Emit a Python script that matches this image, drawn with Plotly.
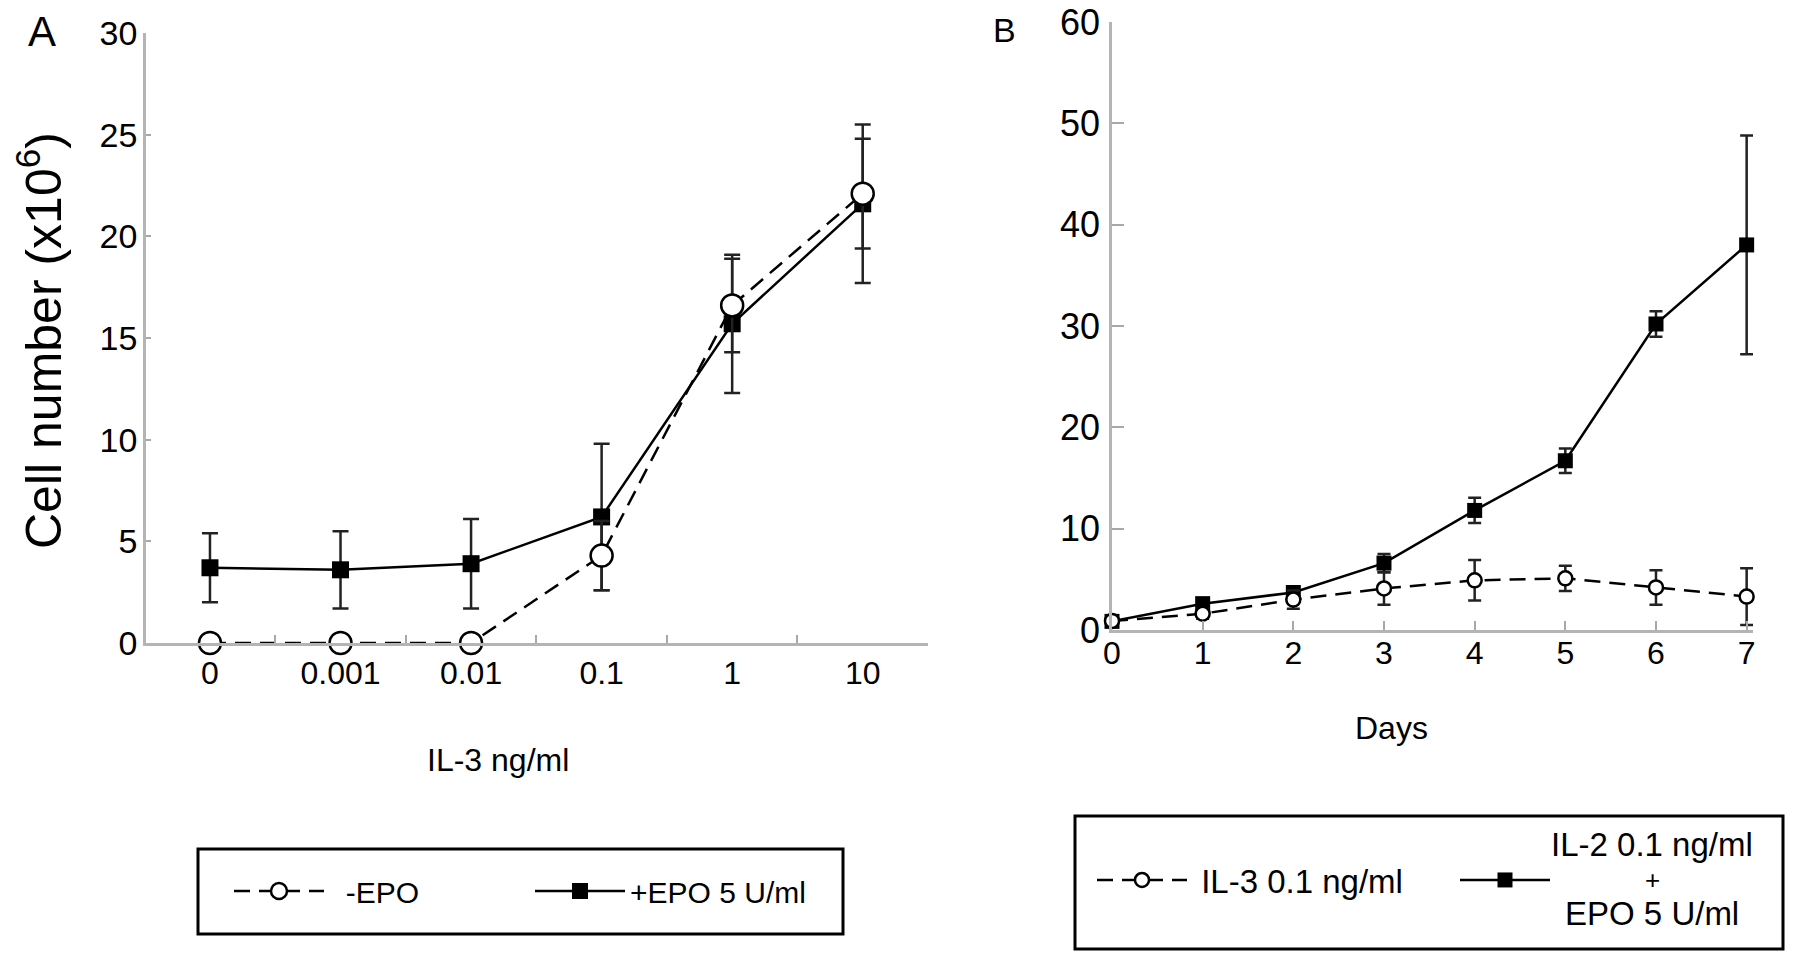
import plotly.graph_objects as go

W, H = 1795, 958

# ---- panel A: cell number vs IL-3 dose
il3_doses = ["0", "0.001", "0.01", "0.1", "1", "10"]
no_epo = [0.0, 0.0, 0.0, 4.3, 16.6, 22.1]
no_epo_err = [0.0, 0.0, 0.0, 1.7, 2.3, 2.7]
epo5 = [3.7, 3.6, 3.9, 6.2, 15.7, 21.6]
epo5_err = [1.7, 1.9, 2.2, 3.6, 3.4, 3.9]

# ---- panel B: time course
days = [0, 1, 2, 3, 4, 5, 6, 7]
il3_01 = [0.9, 1.6, 3.0, 4.1, 4.9, 5.1, 4.2, 3.3]
il3_01_err = [0.3, 0.5, 0.9, 1.6, 2.0, 1.25, 1.7, 2.8]
il2_epo = [0.85, 2.6, 3.7, 6.6, 11.8, 16.7, 30.2, 38.0]
il2_epo_err = [0.3, 0.5, 0.5, 0.9, 1.25, 1.2, 1.25, 10.8]

FONT = "Arial, Liberation Sans, sans-serif"
AXIS_GREY = "#b4b4b4"
NB = "\u00a0"
OFF = 8  # page body margin


def px(x):
    return (x - OFF) / W


def py(y):
    return 1 - (y - OFF) / H


fig = go.Figure()

# panel A traces (squares first so circles sit on top)
fig.add_trace(go.Scatter(
    x=il3_doses, y=epo5, name="+EPO 5 U/ml", legend="legend", legendrank=2,
    mode="lines+markers", cliponaxis=False,
    line=dict(color="black", width=2.5),
    marker=dict(symbol="square", size=17, color="black"),
    error_y=dict(type="data", array=epo5_err, color="#222", thickness=2.5, width=8),
    xaxis="x", yaxis="y"))
fig.add_trace(go.Scatter(
    x=il3_doses, y=no_epo, name=NB * 2 + "-EPO", legend="legend", legendrank=1,
    mode="lines+markers", cliponaxis=False,
    line=dict(color="black", width=2.5, dash="16px,9px"),
    marker=dict(symbol="circle", size=22, color="white",
                line=dict(color="black", width=2.5)),
    error_y=dict(type="data", array=no_epo_err, color="#222", thickness=2.5, width=8),
    xaxis="x", yaxis="y"))

# panel B traces (second legend label is written as three centred lines below)
fig.add_trace(go.Scatter(
    x=days, y=il2_epo, name=NB, legend="legend2", legendrank=2,
    hovertemplate="IL-2 0.1 ng/ml + EPO 5 U/ml<br>day %{x}: %{y}<extra></extra>",
    mode="lines+markers", cliponaxis=False,
    line=dict(color="black", width=2.5),
    marker=dict(symbol="square", size=15, color="black"),
    error_y=dict(type="data", array=il2_epo_err, color="#222", thickness=2.5, width=6.5),
    xaxis="x2", yaxis="y2"))
fig.add_trace(go.Scatter(
    x=days, y=il3_01, name=NB + "IL-3 0.1 ng/ml", legend="legend2", legendrank=1,
    mode="lines+markers", cliponaxis=False,
    line=dict(color="black", width=2.5, dash="16px,9px"),
    marker=dict(symbol="circle", size=14, color="white",
                line=dict(color="black", width=2.5)),
    error_y=dict(type="data", array=il3_01_err, color="#222", thickness=2.5, width=6.5),
    xaxis="x2", yaxis="y2"))

axis_common = dict(showline=True, linecolor=AXIS_GREY, linewidth=2.5,
                   showgrid=False, zeroline=False, ticks="inside",
                   tickcolor="#a8a8a8", tickwidth=2, ticklabeloverflow="allow")

fig.update_layout(
    width=W, height=H,
    margin=dict(l=0, r=0, t=0, b=0, autoexpand=False),
    paper_bgcolor="white", plot_bgcolor="white",
    font=dict(family=FONT, color="black"),
    xaxis=dict(axis_common, domain=[px(146), px(928)], anchor="y",
               type="category", categoryorder="array", categoryarray=il3_doses,
               range=[-0.49, 5.5], tickson="boundaries", ticklen=8,
               tickfont=dict(size=32), ticklabelstandoff=0),
    yaxis=dict(axis_common, domain=[py(643), py(33)], anchor="x",
               range=[0, 30], tickvals=[0, 5, 10, 15, 20, 25, 30], ticklen=5,
               tickfont=dict(size=34), ticklabelstandoff=-1),
    xaxis2=dict(axis_common, domain=[px(1112), px(1753)], anchor="y2",
                range=[0, 7.07], tickvals=days, ticklen=9,
                tickfont=dict(size=32), ticklabelstandoff=-7),
    yaxis2=dict(axis_common, domain=[py(630), py(22)], anchor="x2",
                range=[0, 60], tickvals=[0, 10, 20, 30, 40, 50, 60], ticklen=12,
                tickfont=dict(size=36), ticklabelstandoff=2),
    legend=dict(orientation="h", x=px(229), y=py(891), xanchor="left", yanchor="middle",
                font=dict(size=30), itemwidth=90, entrywidth=196,
                bgcolor="rgba(0,0,0,0)", borderwidth=0),
    legend2=dict(orientation="h", x=px(1092), y=py(880), xanchor="left", yanchor="middle",
                 font=dict(size=33), itemwidth=90, entrywidth=258,
                 bgcolor="rgba(0,0,0,0)", borderwidth=0),
    showlegend=True,
)

# legend frames
fig.add_shape(type="rect", xref="paper", yref="paper",
              x0=px(198), x1=px(843), y0=py(934), y1=py(849),
              line=dict(color="black", width=3))
fig.add_shape(type="rect", xref="paper", yref="paper",
              x0=px(1075), x1=px(1783), y0=py(949), y1=py(816),
              line=dict(color="black", width=3))

# panel letters, axis titles and the three-line legend label
labels = [
    ("A", 42, 31, 42, 0),
    ("B", 1004, 30, 34, 0),
    ("Cell number (x10<sup>6</sup>)", 40, 341, 50, -90),
    ("IL-3 ng/ml", 498, 760, 32, 0),
    ("Days", 1391, 728, 32, 0),
    ("IL-2 0.1 ng/ml", 1652, 844, 33, 0),
    ("+", 1652, 880, 26, 0),
    ("EPO 5 U/ml", 1652, 913, 33, 0),
]
for txt, lx, ly, size, ang in labels:
    fig.add_annotation(text=txt, x=px(lx), y=py(ly), xref="paper", yref="paper",
                       xanchor="center", yanchor="middle", showarrow=False,
                       textangle=ang, font=dict(size=size))

fig.write_html("out.html")
